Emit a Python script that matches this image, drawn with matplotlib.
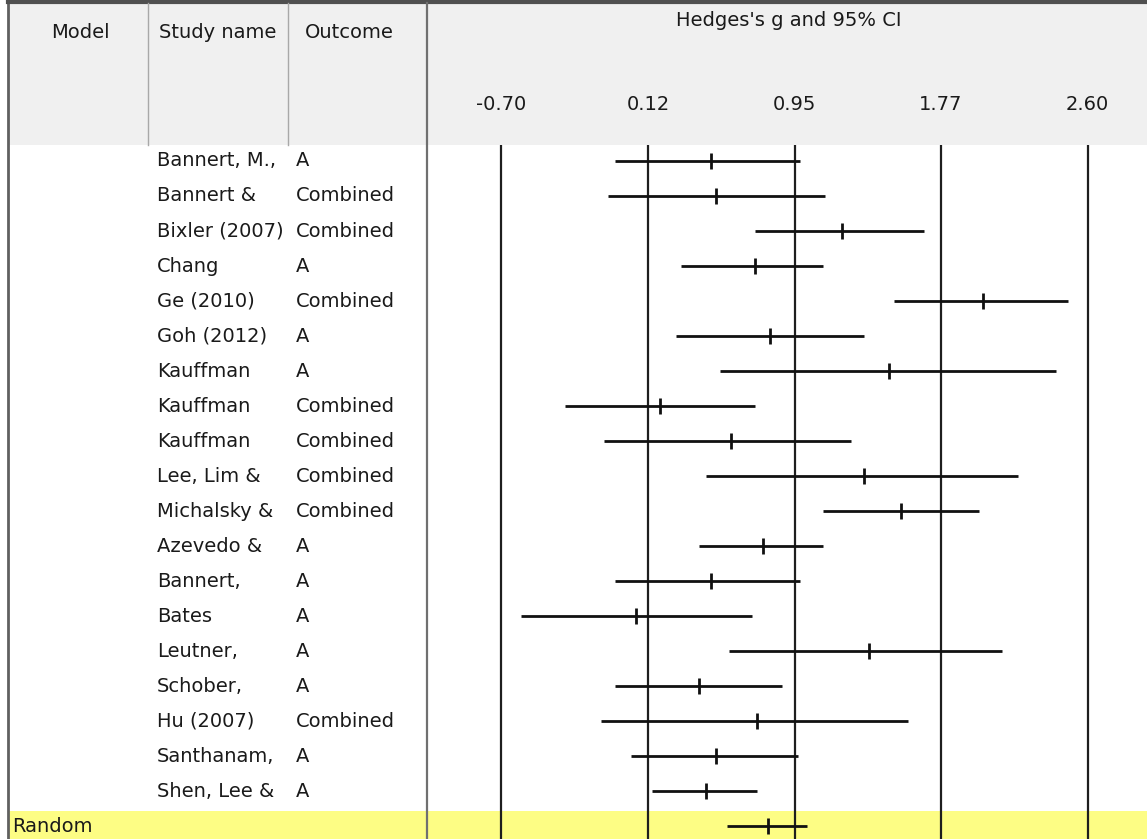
import matplotlib.pyplot as plt
from matplotlib.patches import Rectangle
from matplotlib.transforms import blended_transform_factory

# forest plot data (Hedges's g with 95% CI)
studies = ['Bannert, M.,', 'Bannert &', 'Bixler (2007)', 'Chang', 'Ge (2010)',
           'Goh (2012)', 'Kauffman', 'Kauffman', 'Kauffman', 'Lee, Lim &',
           'Michalsky &', 'Azevedo &', 'Bannert,', 'Bates', 'Leutner,',
           'Schober,', 'Hu (2007)', 'Santhanam,', 'Shen, Lee &']
outcomes = ['A', 'Combined', 'Combined', 'A', 'Combined', 'A', 'A', 'Combined',
            'Combined', 'Combined', 'Combined', 'A', 'A', 'A', 'A', 'A',
            'Combined', 'A', 'A']
g = [0.48, 0.51, 1.22, 0.73, 2.01, 0.81, 1.48, 0.19, 0.59, 1.34,
     1.55, 0.77, 0.48, 0.06, 1.37, 0.41, 0.74, 0.51, 0.45]
lower = [-0.06, -0.10, 0.73, 0.31, 1.51, 0.28, 0.53, -0.34, -0.12, 0.45,
         1.11, 0.41, -0.06, -0.59, 0.58, -0.06, -0.14, 0.03, 0.15]
upper = [0.98, 1.12, 1.68, 1.11, 2.49, 1.34, 2.42, 0.73, 1.27, 2.21,
         1.99, 1.11, 0.98, 0.71, 2.12, 0.88, 1.59, 0.97, 0.74]
model_name = 'Random'
model_g, model_lower, model_upper = 0.80, 0.57, 1.02

ticks = [-0.70, 0.125, 0.95, 1.775, 2.60]
tick_labels = ['-0.70', '0.12', '0.95', '1.77', '2.60']

W, H = 1147, 839
FS = 14
TXT = '#1a1a1a'

fig = plt.figure(figsize=(W / 100, H / 100), dpi=100)

# background layer in pixel coordinates for the table frame
bg = fig.add_axes([0, 0, 1, 1])
bg.set_xlim(0, W)
bg.set_ylim(H, 0)
bg.axis('off')

header_bottom = 145
bg.add_patch(Rectangle((8, 3), W - 8, header_bottom - 3, color='#f0f0f0', lw=0))
bg.add_patch(Rectangle((8, 811), W - 8, H - 811, color='#fdfd84', lw=0))
bg.plot([8, 8], [0, H], color='#606060', lw=2)
bg.plot([8, W], [2, 2], color='#505050', lw=3)
bg.plot([427, 427], [3, H], color='#707070', lw=1.6)
for x in (148, 288):
    bg.plot([x, x], [3, header_bottom], color='#a8a8a8', lw=1)

bg.text(80, 33, 'Model', fontsize=FS, color=TXT, ha='center', va='center')
bg.text(218, 33, 'Study name', fontsize=FS, color=TXT, ha='center', va='center')
bg.text(349, 33, 'Outcome', fontsize=FS, color=TXT, ha='center', va='center')

# forest axes
ax = fig.add_axes([430 / W, 0, (W - 430) / W, (H - header_bottom) / H])
ax.patch.set_alpha(0)
ax.set_xlim(-1.1026, 2.935)
n = len(studies)
ax.set_ylim(19.37, -0.457)
for s in ax.spines.values():
    s.set_visible(False)
ax.set_yticks([])
ax.xaxis.tick_top()
ax.set_xticks(ticks, tick_labels)
ax.tick_params(axis='x', length=0, pad=22, labelsize=FS, labelcolor=TXT)
ax.grid(axis='x', color='#1e1e1e', lw=1.6)
ax.set_axisbelow(True)

rows = list(range(n))
ax.hlines(rows, lower, upper, color='#111111', lw=2)
ax.plot(g, rows, ls='none', marker='|', ms=11, mew=2, color='#111111')
ax.hlines(n, model_lower, model_upper, color='#111111', lw=2)
ax.plot([model_g], [n], ls='none', marker='|', ms=11, mew=2, color='#111111')

ax.text(0.5, 20, "Hedges's g and 95% CI", fontsize=FS, color=TXT, ha='center',
        va='center', transform=blended_transform_factory(ax.transAxes, bg.transData))

row_tr = blended_transform_factory(bg.transData, ax.transData)
for i, (s, o) in enumerate(zip(studies, outcomes)):
    bg.text(157, i, s, fontsize=FS, color=TXT, va='center', transform=row_tr)
    bg.text(296, i, o, fontsize=FS, color=TXT, va='center', transform=row_tr)
bg.text(12, n, model_name, fontsize=FS, color=TXT, va='center', transform=row_tr)

fig.savefig('out.png', dpi=100)
